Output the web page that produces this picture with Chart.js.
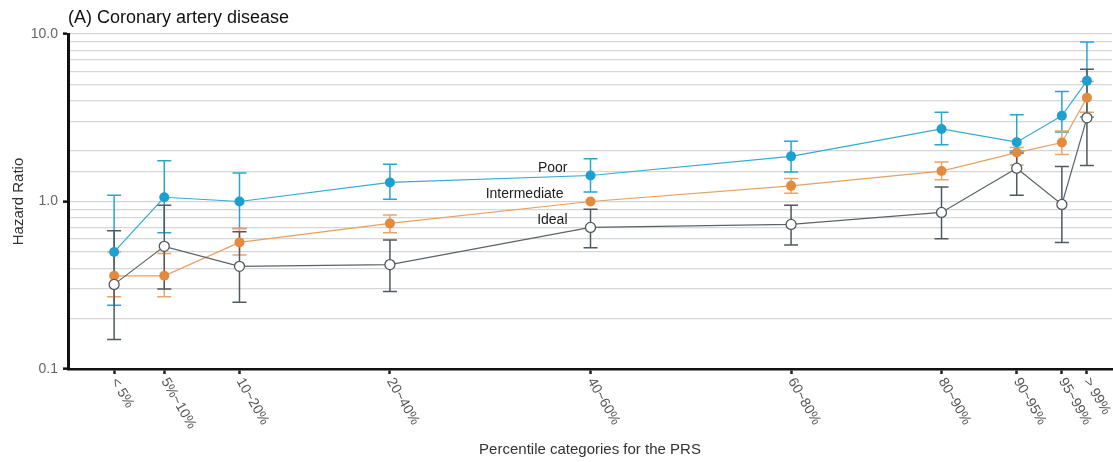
<!DOCTYPE html>
<html>
<head>
<meta charset="utf-8">
<script src="https://cdn.jsdelivr.net/npm/chart.js@4.4.1/dist/chart.umd.min.js"></script>
<style>
    html, body { margin: 0; padding: 0; background: #fff; }
    #wrap { width: 1113px; height: 462px; }
</style>
</head>
<body>
<div id="wrap"><canvas id="hrChart" width="1113" height="462"></canvas></div>
<script>
// Percentile categories, placed at the middle of each PRS band
const xPos = [2.5, 7.5, 15, 30, 50, 70, 85, 92.5, 97, 99.5];
const catLabels = ['< 5%', '5%~10%', '10~20%', '20~40%', '40~60%', '60~80%', '80~90%', '90~95%', '95~99%', '> 99%'];

// Hazard ratios with 95% CI per lifestyle group
const poorHR = [0.50, 1.06, 1.00, 1.30, 1.43, 1.86, 2.71, 2.26, 3.25, 5.25];
const poorLo = [0.24, 0.65, 0.69, 1.03, 1.14, 1.50, 2.18, 2.00, 2.60, 3.20];
const poorHi = [1.09, 1.75, 1.48, 1.67, 1.80, 2.29, 3.41, 3.29, 4.54, 8.95];

const interHR = [0.36, 0.36, 0.57, 0.74, 1.00, 1.24, 1.52, 1.96, 2.25, 4.17];
const interLo = [0.27, 0.27, 0.48, 0.65, 1.00, 1.12, 1.35, 1.65, 1.91, 3.41];
const interHi = [0.50, 0.49, 0.69, 0.83, 1.00, 1.37, 1.72, 2.10, 2.64, 5.20];

const idealHR = [0.32, 0.54, 0.41, 0.42, 0.70, 0.73, 0.86, 1.58, 0.96, 3.16];
const idealLo = [0.15, 0.30, 0.25, 0.29, 0.53, 0.55, 0.60, 1.09, 0.57, 1.64];
const idealHi = [0.67, 0.95, 0.66, 0.59, 0.90, 0.95, 1.22, 1.95, 1.62, 6.17];

const groupNames = ['Poor', 'Intermediate', 'Ideal'];
const labelAt = 4; // group names sit next to the 40~60% points

const FONT = "'Liberation Sans', Arial, sans-serif";
const BLUE = '#1ba0cf';
const ORANGE = '#e38a3d';
const DARK = '#4f595e';

const toPts = arr => arr.map((v, i) => ({ x: xPos[i], y: v }));

const ciSets = [
    { lo: poorLo, hi: poorHi, color: '#2aa5cf' },
    { lo: interLo, hi: interHi, color: '#eaa468' },
    { lo: idealLo, hi: idealHi, color: DARK }
];

// error bars go under the markers
const errorBars = {
    id: 'errorBars',
    beforeDatasetsDraw(chart) {
        const { ctx, scales: { x, y } } = chart;
        ctx.save();
        ctx.lineWidth = 1.5;
        ciSets.forEach(s => {
            ctx.strokeStyle = s.color;
            xPos.forEach((xv, i) => {
                if (s.lo[i] === s.hi[i]) return;
                const px = x.getPixelForValue(xv);
                const y1 = y.getPixelForValue(s.lo[i]);
                const y2 = y.getPixelForValue(s.hi[i]);
                ctx.beginPath();
                ctx.moveTo(px, y1); ctx.lineTo(px, y2);
                ctx.moveTo(px - 7, y1); ctx.lineTo(px + 7, y1);
                ctx.moveTo(px - 7, y2); ctx.lineTo(px + 7, y2);
                ctx.stroke();
            });
        });
        ctx.restore();
    }
};

// title, slanted category labels and group names
const annotations = {
    id: 'annotations',
    afterDraw(chart) {
        const { ctx, chartArea, scales: { x, y } } = chart;
        ctx.save();
        ctx.fillStyle = '#111';
        ctx.font = '18px ' + FONT;
        ctx.textAlign = 'left';
        ctx.textBaseline = 'middle';
        ctx.fillText('(A) Coronary artery disease', chartArea.left, 18);

        ctx.fillStyle = '#555';
        ctx.font = '14px ' + FONT;
        xPos.forEach((xv, i) => {
            const px = x.getPixelForValue(xv);
            ctx.save();
            ctx.translate(px, chartArea.bottom + 10);
            ctx.rotate(Math.PI / 3);
            ctx.textAlign = 'left';
            ctx.textBaseline = 'middle';
            ctx.fillText(catLabels[i], 0, 0);
            ctx.restore();
        });

        ctx.fillStyle = '#222';
        ctx.font = '14px ' + FONT;
        ctx.textAlign = 'right';
        const hrs = [poorHR, interHR, idealHR];
        const px = x.getPixelForValue(xPos[labelAt]);
        groupNames.forEach((name, g) => {
            const py = y.getPixelForValue(hrs[g][labelAt]);
            ctx.fillText(name, px - (g === 1 ? 27 : 23), py - 7);
        });
        ctx.restore();
    }
};

const isDecade = v => Math.abs(Math.log10(v) - Math.round(Math.log10(v))) < 1e-6;

new Chart(document.getElementById('hrChart'), {
    type: 'line',
    data: {
        datasets: [
            {
                label: 'Ideal',
                data: toPts(idealHR),
                borderColor: '#5b6368',
                borderWidth: 1.2,
                pointRadius: 5,
                pointBackgroundColor: '#fff',
                pointBorderColor: DARK,
                pointBorderWidth: 1.3,
                tension: 0
            },
            {
                label: 'Intermediate',
                data: toPts(interHR),
                borderColor: '#e6a062',
                borderWidth: 1.2,
                pointRadius: 5,
                pointBackgroundColor: ORANGE,
                pointBorderColor: ORANGE,
                pointBorderWidth: 0,
                tension: 0
            },
            {
                label: 'Poor',
                data: toPts(poorHR),
                borderColor: '#35abd2',
                borderWidth: 1.2,
                pointRadius: 5,
                pointBackgroundColor: BLUE,
                pointBorderColor: BLUE,
                pointBorderWidth: 0,
                tension: 0
            }
        ]
    },
    options: {
        responsive: false,
        animation: false,
        layout: { autoPadding: false, padding: { top: 34, right: 1, left: 0, bottom: 0 } },
        plugins: {
            legend: { display: false },
            tooltip: { enabled: false }
        },
        scales: {
            x: {
                type: 'linear',
                min: -2.1,
                max: 102,
                afterBuildTicks: scale => { scale.ticks = xPos.map(v => ({ value: v })); },
                afterFit: scale => { scale.height = 93; },
                ticks: { display: false },
                grid: {
                    drawOnChartArea: false,
                    drawTicks: true,
                    tickLength: 5,
                    tickColor: '#222',
                    tickWidth: 2.5
                },
                border: { display: true, color: '#111', width: 2.5 },
                title: {
                    display: true,
                    text: 'Percentile categories for the PRS',
                    color: '#333',
                    font: { family: FONT, size: 15 },
                    padding: { top: 0, bottom: 3 }
                }
            },
            y: {
                type: 'logarithmic',
                min: 0.1,
                max: 10,
                afterFit: scale => { scale.width = 68; },
                ticks: {
                    color: '#666',
                    font: { family: FONT, size: 14 },
                    padding: 5,
                    autoSkip: false,
                    callback: v => isDecade(v) ? Number(v).toFixed(1) : ''
                },
                grid: {
                    color: '#d6d6d6',
                    lineWidth: 1.3,
                    drawTicks: true,
                    tickLength: 5,
                    tickColor: ctx => isDecade(ctx.tick.value) ? '#111' : 'rgba(0,0,0,0)',
                    tickWidth: 2.5
                },
                border: { display: true, color: '#111', width: 3 },
                title: {
                    display: true,
                    text: 'Hazard Ratio',
                    color: '#333',
                    font: { family: FONT, size: 15 },
                    padding: { top: 9.5, bottom: 0 }
                }
            }
        }
    },
    plugins: [errorBars, annotations]
});
</script>
</body>
</html>
